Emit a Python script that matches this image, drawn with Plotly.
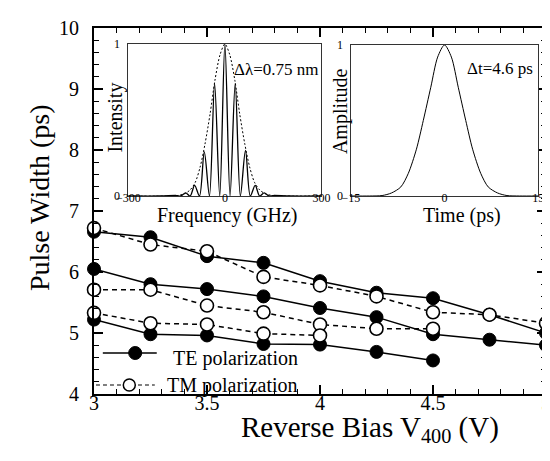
import plotly.graph_objects as go

# ---------------- data ----------------
bias = [3, 3.25, 3.5, 3.75, 4, 4.25, 4.5, 4.75, 5]
te_a = [6.66, 6.57, 6.26, 6.15, 5.85, 5.66, 5.57, 5.30, 5.00]
te_b = [6.05, 5.80, 5.72, 5.60, 5.41, 5.26, 4.98, 4.89, 4.80]
te_c = [5.22, 4.98, 4.96, 4.82, 4.81, 4.69, 4.55]
tm_a = [6.72, 6.45, 6.34, 5.92, 5.78, 5.60, 5.34, 5.30, 5.16]
tm_b = [5.71, 5.71, 5.45, 5.34, 5.14, 5.07, 5.07]
tm_c = [5.33, 5.16, 5.14, 4.99, 4.96]
x_ticks = [3, 3.5, 4, 4.5, 5]
x_tick_text = ["3", "3.5", "4", "4.5", "5"]
y_ticks = [4, 5, 6, 7, 8, 9, 10]

# inset 1: spectrum (fringes) and its envelope
spec_freq = [-300, -200, -150, -137, -122, -108, -94, -79, -64, -48, -32, -16, 0,
             16, 32, 48, 64, 79, 94, 108, 122, 137, 150, 200, 300]
spec_int = [0, 0, 0.003, 0, 0.02, 0, 0.07, 0, 0.29, 0, 0.74, 0, 1.0,
            0, 0.74, 0, 0.30, 0, 0.07, 0, 0.02, 0, 0.003, 0, 0]
env_freq = [-300, -165, -145, -125, -108, -92, -77, -62, -46, -31, -15, 0,
            15, 31, 46, 62, 77, 92, 108, 125, 145, 165, 300]
env_int = [0, 0, 0.004, 0.015, 0.04, 0.09, 0.19, 0.34, 0.54, 0.76, 0.93, 1.0,
           0.93, 0.76, 0.54, 0.34, 0.19, 0.09, 0.04, 0.015, 0.004, 0, 0]
freq_ticks = [-300, 0, 300]

# inset 2: pulse in time
time_ps = [-15, -12, -10, -8.5, -7, -5.8, -4.5, -3.4, -2.2, -1.1, 0,
           1.1, 2.2, 3.4, 4.5, 5.8, 7, 8.5, 10, 12, 15]
amp = [0, 0, 0.003, 0.02, 0.06, 0.15, 0.31, 0.5, 0.72, 0.92, 1.0,
       0.92, 0.72, 0.5, 0.31, 0.15, 0.06, 0.02, 0.003, 0, 0]
time_ticks = [-15, 0, 15]
inset_y_ticks = [0, 1]

# ---------------- layout geometry (pixels) ----------------
W, H = 550, 461
L, R, T, B = 86, 547, 20, 386
FONT = "'Liberation Serif', 'Times New Roman', 'DejaVu Serif', serif"


def px(x):
    return (x - L) / (R - L)


def py(y):
    return (B - y) / (B - T)


fig = go.Figure()

filled = dict(symbol="circle", size=13, color="black", line=dict(color="black", width=1))
opened = dict(symbol="circle", size=13, color="white", line=dict(color="black", width=1.6))
solid = dict(color="black", width=1.5)
dashed = dict(color="black", width=1.5, dash="5px,4px")

for ys in (te_a, te_b, te_c):
    fig.add_trace(go.Scatter(x=bias[:len(ys)], y=ys, mode="lines+markers",
                             line=solid, marker=filled, cliponaxis=False))
for ys in (tm_a, tm_b, tm_c):
    fig.add_trace(go.Scatter(x=bias[:len(ys)], y=ys, mode="lines+markers",
                             line=dashed, marker=opened, cliponaxis=False))

# insets
fig.add_trace(go.Scatter(x=env_freq, y=env_int, mode="lines", xaxis="x2", yaxis="y2",
                         line=dict(color="black", width=1, dash="2px,2px", shape="spline", smoothing=0.8)))
fig.add_trace(go.Scatter(x=spec_freq, y=spec_int, mode="lines", xaxis="x2", yaxis="y2",
                         line=dict(color="black", width=1.3, shape="spline", smoothing=0.9)))
fig.add_trace(go.Scatter(x=time_ps, y=amp, mode="lines", xaxis="x3", yaxis="y3",
                         line=dict(color="black", width=1, shape="spline", smoothing=0.8)))

# legend drawn on a pixel overlay axis
fig.add_trace(go.Scatter(x=[95, 150], y=[345, 345], mode="lines", xaxis="x4", yaxis="y4",
                         line=solid, cliponaxis=False))
fig.add_trace(go.Scatter(x=[128], y=[345], mode="markers", xaxis="x4", yaxis="y4",
                         marker=filled, cliponaxis=False))
fig.add_trace(go.Scatter(x=[88, 148], y=[377, 377], mode="lines", xaxis="x4", yaxis="y4",
                         line=dict(color="black", width=1.2, dash="4px,3px"), cliponaxis=False))
fig.add_trace(go.Scatter(x=[122], y=[377], mode="markers", xaxis="x4", yaxis="y4",
                         marker=dict(symbol="circle", size=12, color="white",
                                     line=dict(color="black", width=1.5)), cliponaxis=False))

tf = dict(family=FONT, size=20, color="#000000")
axis_common = dict(showline=True, linecolor="black", mirror=True, ticks="inside",
                   showgrid=False, zeroline=False, tickcolor="black", tickfont=tf,
                   ticklabeloverflow="allow")

inset_common = dict(showline=True, linecolor="#333", linewidth=1, mirror=True, ticks="",
                    showgrid=False, zeroline=False, ticklabeloverflow="allow",
                    tickfont=dict(family=FONT, size=12, color="#000000"))

xminor = dict(tick0=3, dtick=0.1, ticklen=5, tickwidth=1.2, ticks="inside", tickcolor="black")
yminor = dict(tick0=4, dtick=0.2, ticklen=5, tickwidth=1.2, ticks="inside", tickcolor="black")

fig.update_layout(
    width=W, height=H,
    margin=dict(l=L, r=W - R, t=T, b=H - B),
    plot_bgcolor="white", paper_bgcolor="white",
    showlegend=False,
    font=dict(family=FONT, color="black"),
    xaxis=dict(range=[3, 5], tickvals=x_ticks, ticktext=x_tick_text, ticklen=9, tickwidth=1.5,
               linewidth=1.8, minor=xminor, ticklabelstandoff=-10, **axis_common),
    yaxis=dict(range=[4, 10], tickvals=y_ticks, ticklen=9, tickwidth=1.5, linewidth=1.8,
               minor=yminor, showticklabels=False, **axis_common),
    # top / right tick marks
    xaxis5=dict(range=[3, 5], tickvals=x_ticks, ticklen=9, tickwidth=1.5, side="top",
                overlaying="x", anchor="y", ticks="inside", tickcolor="black",
                showticklabels=False, showgrid=False, zeroline=False, showline=False,
                minor=xminor),
    yaxis5=dict(range=[4, 10], tickvals=y_ticks, ticklen=9, tickwidth=1.5, side="right",
                overlaying="y", anchor="x", ticks="inside", tickcolor="black",
                showticklabels=False, showgrid=False, zeroline=False, showline=False,
                minor=yminor),
    xaxis2=dict(domain=[px(121), px(318)], anchor="y2", range=[-300, 300],
                tickvals=freq_ticks, ticklabelstandoff=-9, **inset_common),
    yaxis2=dict(domain=[py(188), py(36)], anchor="x2", range=[0, 1.0],
                tickvals=inset_y_ticks, showticklabels=False, **inset_common),
    xaxis3=dict(domain=[px(348), px(539)], anchor="y3", range=[-15, 15],
                tickvals=time_ticks, ticklabelstandoff=-9, **inset_common),
    yaxis3=dict(domain=[py(188), py(37)], anchor="x3", range=[0, 1.0],
                tickvals=inset_y_ticks, showticklabels=False, **inset_common),
    xaxis4=dict(domain=[0, 1], range=[L, R], overlaying="x", visible=False, anchor="y4"),
    yaxis4=dict(domain=[0, 1], range=[B, T], overlaying="y", visible=False, anchor="x4"),
)

# invisible traces so the top/right tick axes are drawn
fig.add_trace(go.Scatter(x=[3, 5], y=[4, 4], mode="markers", xaxis="x5", yaxis="y",
                         marker=dict(opacity=0), hoverinfo="skip"))
fig.add_trace(go.Scatter(x=[3, 3], y=[4, 10], mode="markers", xaxis="x", yaxis="y5",
                         marker=dict(opacity=0), hoverinfo="skip"))

ann = []


def add_text(text, x, y, size, xanchor="center", yanchor="middle", angle=0, yref="paper"):
    ann.append(dict(text=text, x=px(x), y=(py(y) if yref == "paper" else y),
                    xref="paper", yref=yref,
                    showarrow=False, xanchor=xanchor, yanchor=yanchor, textangle=angle,
                    font=dict(family=FONT, size=size, color="black")))


# y tick labels placed on the y scale
for v in y_ticks:
    add_text(str(v), 73, v, 20, xanchor="right", yref="y")
for v in inset_y_ticks:
    add_text(str(v), 115, v, 12, xanchor="right", yref="y2")
    add_text(str(v), 342, v, 12, xanchor="right", yref="y3")

add_text("Reverse Bias V<sub>400</sub> (V)", 367, 421, 29)
add_text("Pulse Width (ps)", 31, 190, 28, angle=-90)
add_text("Frequency (GHz)", 222, 207, 20)
add_text("Intensity", 107, 110, 20, angle=-90)
add_text("Time (ps)", 461, 207, 20)
add_text("Amplitude", 337, 103, 20, angle=-90)
add_text("Δλ=0.75 nm", 318, 61, 17, xanchor="right")
add_text("Δt=4.6 ps", 536, 60, 17, xanchor="right")
add_text("TE polarization", 165, 350, 20, xanchor="left")
add_text("TM polarization", 158, 377, 20, xanchor="left")

fig.update_layout(annotations=ann)

fig.write_html("out.html")
